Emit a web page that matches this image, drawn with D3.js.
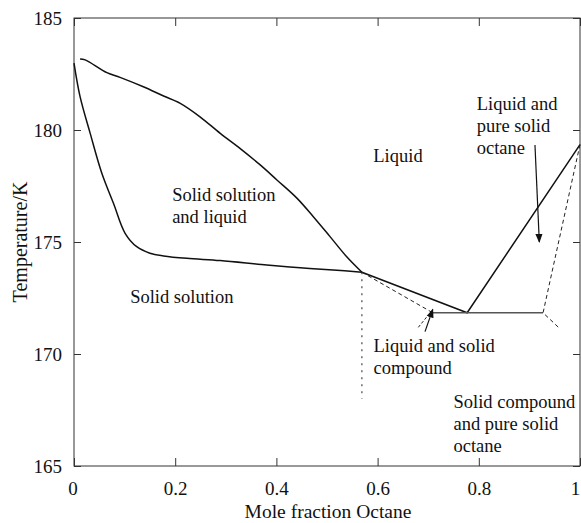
<!DOCTYPE html>
<html>
  <head>
    <meta charset="UTF-8">
    <title>Phase diagram</title>
    <script src="https://d3js.org/d3.v7.min.js"></script>
    <style>
    body { margin: 0; background: #fff; }
    text { font-family: "Liberation Serif", "Times New Roman", serif; fill: #111; }
    .axis text { font-size: 19px; }
    .axis line { stroke: #333; }
    .curve { fill: none; stroke: #111; stroke-width: 1.5px; }
    .dash { fill: none; stroke: #222; stroke-width: 1px; stroke-dasharray: 4,3; }
    </style>
  </head>
  <body>
  <script type="text/javascript">

  // mole fraction octane, temperature / K
  var liquidusX = [0.012, 0.022, 0.065, 0.091, 0.137, 0.177, 0.210, 0.249, 0.289, 0.328, 0.368, 0.401, 0.440, 0.473, 0.506, 0.539, 0.569]
  var liquidusT = [183.17, 183.13, 182.56, 182.35, 181.93, 181.52, 181.19, 180.59, 179.85, 179.18, 178.44, 177.77, 176.97, 176.13, 175.24, 174.34, 173.65]

  var solidusX = [0, 0.012, 0.032, 0.055, 0.078, 0.101, 0.124, 0.150, 0.177, 0.223, 0.289, 0.381, 0.447, 0.512, 0.569]
  var solidusT = [182.99, 181.49, 179.85, 178.07, 176.73, 175.39, 174.79, 174.50, 174.38, 174.27, 174.17, 173.97, 173.85, 173.75, 173.65]

  // compound / octane side
  var eutecticX = [0.569, 0.777, 1.0]
  var eutecticT = [173.65, 171.84, 179.35]
  var compoundLineX = [0.709, 0.927]
  var compoundLineT = [171.84, 171.84]
  var dashLeftX = [0.569, 0.709]
  var dashLeftT = [173.65, 171.84]
  var dashRightX = [1.0, 0.927, 0.957]
  var dashRightT = [179.35, 171.84, 171.2]
  var dottedX = [0.569, 0.569]
  var dottedT = [173.65, 168.0]

  var xTicks = [0, 0.2, 0.4, 0.6, 0.8, 1]
  var yTicks = [165, 170, 175, 180, 185]

  var labels = [
    {x: 0.5915, t: 178.59, lines: ['Liquid']},
    {x: 0.194, t: 176.84, lines: ['Solid solution', 'and liquid']},
    {x: 0.111, t: 172.26, lines: ['Solid solution']},
    {x: 0.796, t: 180.91, lines: ['Liquid and', 'pure solid', 'octane']},
    {x: 0.592, t: 170.10, lines: ['Liquid and solid', 'compound']},
    {x: 0.750, t: 167.58, lines: ['Solid compound', 'and pure solid', 'octane']}
  ]
  var arrows = [
    {x1: 0.911, t1: 179.33, x2: 0.9196, t2: 175.0},
    {x1: 0.6937, t1: 171.0, x2: 0.709, t2: 171.99}
  ]
  var arrowTail = {x1: 0.6804, t1: 171.19, x2: 0.706, t2: 171.9}

  var W = 581, H = 523
  var svg = d3.select('body').append('svg').attr('width', W).attr('height', H)

  var x = d3.scaleLinear().domain([0, 1]).range([74, 580])
  var y = d3.scaleLinear().domain([165, 185]).range([466, 18])

  var defs = svg.append('defs')
  defs.append('marker').attr('id', 'head')
      .attr('viewBox', '0 0 10 10').attr('refX', 9).attr('refY', 5)
      .attr('markerWidth', 9).attr('markerHeight', 9).attr('orient', 'auto')
      .attr('markerUnits', 'userSpaceOnUse')
    .append('path').attr('d', 'M0,1L10,5L0,9Z').attr('fill', '#111')

  // frame
  svg.append('rect').attr('x', 74).attr('y', 18).attr('width', 506).attr('height', 448)
      .attr('fill', 'none').attr('stroke', '#333').attr('stroke-width', 1)

  var bottom = svg.append('g').attr('class', 'axis').attr('transform', 'translate(0,466)')
      .call(d3.axisBottom(x).tickValues(xTicks).tickFormat(d3.format('')).tickSizeInner(-8).tickSizeOuter(0).tickPadding(16))
  bottom.selectAll('text').filter(d => d == 1).attr('dx', -5)
  bottom.selectAll('text').filter(d => d == 0).attr('dx', -1.5)
  svg.append('g').attr('class', 'axis').attr('transform', 'translate(0,18)')
      .call(d3.axisTop(x).tickValues(xTicks).tickFormat('').tickSizeInner(-8).tickSizeOuter(0))
  svg.append('g').attr('class', 'axis').attr('transform', 'translate(74,0)')
      .call(d3.axisLeft(y).tickValues(yTicks).tickSizeInner(-7).tickSizeOuter(0).tickPadding(12))
  svg.append('g').attr('class', 'axis').attr('transform', 'translate(580,0)')
      .call(d3.axisRight(y).tickValues(yTicks).tickFormat('').tickSizeInner(-7).tickSizeOuter(0))
  svg.selectAll('.axis .domain').remove()
  svg.selectAll('.axis text').attr('fill', '#111').style('font-family', '"Liberation Serif", serif')

  var line = d3.line().x(d => x(d[0])).y(d => y(d[1]))
  var zip = (a, b) => a.map((v, i) => [v, b[i]])

  svg.append('path').attr('class', 'curve').attr('d', line.curve(d3.curveCatmullRom)(zip(liquidusX, liquidusT)))
  svg.append('path').attr('class', 'curve').attr('d', line(zip(solidusX, solidusT)))
  line.curve(d3.curveLinear)
  svg.append('path').attr('class', 'curve').attr('d', line(zip(eutecticX, eutecticT)))
  svg.append('path').attr('class', 'curve').style('stroke', '#555')
      .attr('d', line(zip(compoundLineX, compoundLineT)))
  svg.append('path').attr('class', 'dash').attr('d', line(zip(dashLeftX, dashLeftT)))
  svg.append('path').attr('class', 'dash').attr('d', line(zip(dashRightX, dashRightT)))
  svg.append('path').attr('class', 'dash').style('stroke-dasharray', '2,5')
      .attr('d', line(zip(dottedX, dottedT)))

  arrows.forEach(a => {
    svg.append('line')
      .attr('x1', x(a.x1)).attr('y1', y(a.t1)).attr('x2', x(a.x2)).attr('y2', y(a.t2))
      .attr('stroke', '#111').attr('stroke-width', 1.2).attr('marker-end', 'url(#head)')
  })
  svg.append('line').attr('class', 'dash').style('stroke-dasharray', '3,2')
      .attr('x1', x(arrowTail.x1)).attr('y1', y(arrowTail.t1))
      .attr('x2', x(arrowTail.x2)).attr('y2', y(arrowTail.t2))

  labels.forEach(l => {
    var t = svg.append('text').attr('x', x(l.x)).attr('y', y(l.t)).style('font-size', '18.5px')
    l.lines.forEach((s, i) => {
      t.append('tspan').attr('x', x(l.x)).attr('dy', i == 0 ? 0 : 22).text(s)
    })
  })

  svg.append('text').attr('x', 328).attr('y', 518).attr('text-anchor', 'middle')
      .style('font-size', '19.5px').text('Mole fraction Octane')
  svg.append('text').attr('transform', 'translate(27,242) rotate(-90)').attr('text-anchor', 'middle')
      .style('font-size', '20px').text('Temperature/K')

  </script>
  </body>
</html>
